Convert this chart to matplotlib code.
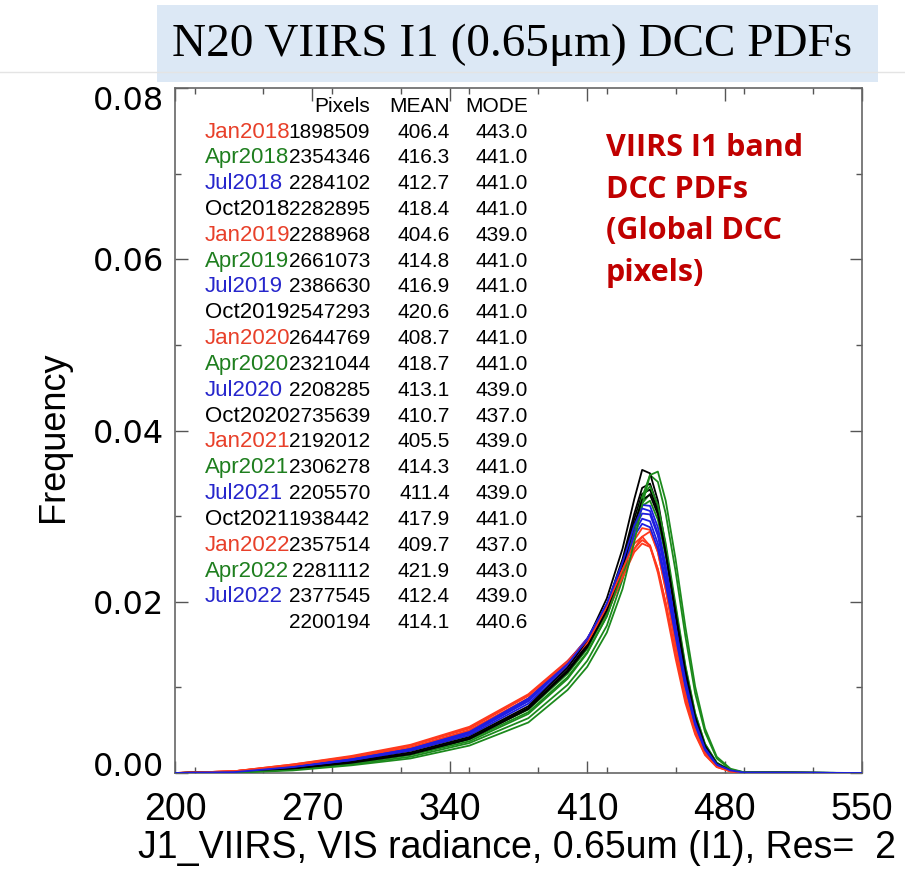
import matplotlib
matplotlib.use("Agg")
import matplotlib.pyplot as plt
import matplotlib.transforms as mtransforms
from matplotlib.patches import Rectangle
from matplotlib.lines import Line2D
from matplotlib.ticker import MultipleLocator

# radiance grid of the read-off points
radiance = [200, 230, 260, 290, 320, 350, 380, 400, 410, 420, 428, 434, 438,
            442, 446, 450, 455, 460, 465, 470, 476, 483, 490, 550]

# frequency values, one list per month
jan2018 = [0, 0.0002, 0.0009, 0.0018, 0.0030, 0.0050, 0.0087, 0.0125, 0.0150, 0.0186, 0.0228, 0.0262,
           0.0276, 0.0282, 0.0258, 0.0215, 0.0152, 0.0095, 0.0053, 0.0026, 0.0009, 0.0002, 0.00004, 0]
apr2018 = [0, 0.0001, 0.0005, 0.0012, 0.0022, 0.0039, 0.0071, 0.0112, 0.0141, 0.0183, 0.0234, 0.0284,
           0.0315, 0.0326, 0.0305, 0.0262, 0.0193, 0.0124, 0.0069, 0.0034, 0.0012, 0.0003, 0.00005, 0]
jul2018 = [0, 0.0001, 0.0007, 0.0015, 0.0027, 0.0046, 0.0084, 0.0127, 0.0155, 0.0196, 0.0243, 0.0285,
           0.0303, 0.0302, 0.0277, 0.0234, 0.0169, 0.0107, 0.0059, 0.0029, 0.0010, 0.0003, 0.00005, 0]
oct2018 = [0, 0.0001, 0.0005, 0.0012, 0.0023, 0.0041, 0.0076, 0.0120, 0.0150, 0.0196, 0.0250, 0.0303,
           0.0333, 0.0338, 0.0311, 0.0262, 0.0190, 0.0120, 0.0065, 0.0031, 0.0010, 0.0003, 0.00004, 0]
jan2019 = [0, 0.0002, 0.0010, 0.0019, 0.0032, 0.0053, 0.0091, 0.0130, 0.0154, 0.0191, 0.0232, 0.0262,
           0.0272, 0.0266, 0.0238, 0.0198, 0.0140, 0.0086, 0.0047, 0.0022, 0.0007, 0.0002, 0.00003, 0]
apr2019 = [0, 0.0001, 0.0005, 0.0012, 0.0023, 0.0041, 0.0074, 0.0116, 0.0145, 0.0188, 0.0238, 0.0285,
           0.0312, 0.0318, 0.0296, 0.0253, 0.0186, 0.0119, 0.0066, 0.0032, 0.0011, 0.0003, 0.00005, 0]
jul2019 = [0, 0.0001, 0.0006, 0.0014, 0.0026, 0.0044, 0.0081, 0.0124, 0.0153, 0.0196, 0.0246, 0.0291,
           0.0313, 0.0312, 0.0287, 0.0243, 0.0176, 0.0112, 0.0062, 0.0030, 0.0010, 0.0003, 0.00005, 0]
oct2019 = [0, 0.0001, 0.0005, 0.0012, 0.0022, 0.0040, 0.0075, 0.0119, 0.0149, 0.0194, 0.0246, 0.0297,
           0.0326, 0.0331, 0.0306, 0.0259, 0.0188, 0.0119, 0.0065, 0.0031, 0.0010, 0.0003, 0.00004, 0]
jan2020 = [0, 0.0002, 0.0008, 0.0017, 0.0029, 0.0049, 0.0087, 0.0127, 0.0152, 0.0192, 0.0236, 0.0272,
           0.0286, 0.0284, 0.0258, 0.0214, 0.0150, 0.0093, 0.0051, 0.0024, 0.0008, 0.0002, 0.00003, 0]
apr2020 = [0, 0.00005, 0.0004, 0.0010, 0.0019, 0.0035, 0.0064, 0.0103, 0.0131, 0.0172, 0.0226, 0.0282,
           0.0322, 0.0348, 0.0340, 0.0303, 0.0236, 0.0160, 0.0093, 0.0048, 0.0017, 0.0004, 0.00007, 0]
jul2020 = [0, 0.0001, 0.0007, 0.0016, 0.0028, 0.0047, 0.0086, 0.0129, 0.0157, 0.0197, 0.0242, 0.0281,
           0.0297, 0.0294, 0.0268, 0.0226, 0.0163, 0.0103, 0.0057, 0.0028, 0.0009, 0.0003, 0.00005, 0]
oct2020 = [0, 0.0001, 0.0005, 0.0013, 0.0024, 0.0042, 0.0078, 0.0123, 0.0155, 0.0204, 0.0262, 0.0320,
           0.0354, 0.0350, 0.0318, 0.0264, 0.0188, 0.0116, 0.0062, 0.0029, 0.0009, 0.0003, 0.00004, 0]
jan2021 = [0, 0.0002, 0.0010, 0.0020, 0.0033, 0.0054, 0.0092, 0.0131, 0.0155, 0.0190, 0.0228, 0.0258,
           0.0268, 0.0264, 0.0238, 0.0199, 0.0141, 0.0087, 0.0048, 0.0023, 0.0008, 0.0002, 0.00003, 0]
apr2021 = [0, 0.0001, 0.0004, 0.0011, 0.0021, 0.0037, 0.0069, 0.0110, 0.0140, 0.0183, 0.0236, 0.0288,
           0.0322, 0.0335, 0.0313, 0.0268, 0.0197, 0.0126, 0.0070, 0.0034, 0.0012, 0.0003, 0.00005, 0]
jul2021 = [0, 0.0001, 0.0007, 0.0016, 0.0028, 0.0048, 0.0087, 0.0130, 0.0157, 0.0196, 0.0240, 0.0277,
           0.0291, 0.0287, 0.0262, 0.0221, 0.0160, 0.0101, 0.0056, 0.0027, 0.0009, 0.0003, 0.00005, 0]
oct2021 = [0, 0.0001, 0.0005, 0.0012, 0.0022, 0.0040, 0.0075, 0.0118, 0.0147, 0.0190, 0.0240, 0.0290,
           0.0319, 0.0325, 0.0302, 0.0257, 0.0188, 0.0120, 0.0066, 0.0032, 0.0011, 0.0003, 0.00004, 0]
jan2022 = [0, 0.0002, 0.0009, 0.0019, 0.0032, 0.0052, 0.0090, 0.0130, 0.0156, 0.0195, 0.0238, 0.0268,
           0.0276, 0.0265, 0.0234, 0.0192, 0.0134, 0.0082, 0.0045, 0.0021, 0.0007, 0.0002, 0.00003, 0]
apr2022 = [0, 0.00004, 0.0003, 0.0009, 0.0017, 0.0032, 0.0059, 0.0097, 0.0124, 0.0164, 0.0215, 0.0270,
           0.0313, 0.0348, 0.0352, 0.0318, 0.0250, 0.0171, 0.0101, 0.0052, 0.0019, 0.0005, 0.00008, 0]
jul2022 = [0, 0.0001, 0.0007, 0.0015, 0.0027, 0.0046, 0.0084, 0.0127, 0.0156, 0.0198, 0.0246, 0.0289,
           0.0309, 0.0306, 0.0280, 0.0237, 0.0171, 0.0109, 0.0060, 0.0029, 0.0010, 0.0003, 0.00005, 0]

# table in the upper left
months = ["Jan2018", "Apr2018", "Jul2018", "Oct2018", "Jan2019", "Apr2019", "Jul2019",
          "Oct2019", "Jan2020", "Apr2020", "Jul2020", "Oct2020", "Jan2021", "Apr2021",
          "Jul2021", "Oct2021", "Jan2022", "Apr2022", "Jul2022", ""]
pixels = ["1898509", "2354346", "2284102", "2282895", "2288968", "2661073", "2386630",
          "2547293", "2644769", "2321044", "2208285", "2735639", "2192012", "2306278",
          "2205570", "1938442", "2357514", "2281112", "2377545", "2200194"]
means = ["406.4", "416.3", "412.7", "418.4", "404.6", "414.8", "416.9", "420.6", "408.7",
         "418.7", "413.1", "410.7", "405.5", "414.3", "411.4", "417.9", "409.7", "421.9",
         "412.4", "414.1"]
modes = ["443.0", "441.0", "441.0", "441.0", "439.0", "441.0", "441.0", "441.0", "441.0",
         "441.0", "439.0", "437.0", "439.0", "441.0", "439.0", "441.0", "437.0", "443.0",
         "439.0", "440.6"]

curves = [jan2018, apr2018, jul2018, oct2018, jan2019, apr2019, jul2019, oct2019,
          jan2020, apr2020, jul2020, oct2020, jan2021, apr2021, jul2021, oct2021,
          jan2022, apr2022, jul2022]

line_colors = ["#ff3a1e", "#1c8a1c", "#1e1ee0", "black"]
text_colors = ["#e8402a", "#1e7e1e", "#2626cc", "black"]

fig = plt.figure(figsize=(9.05, 8.88), dpi=100)

# slide decoration: separator line and title box
fig.add_artist(Line2D([0, 1], [1 - 72 / 888, 1 - 72 / 888], color="#e4e4e4", lw=1.0))
fig.add_artist(Rectangle((157 / 905, 1 - 82 / 888), 721 / 905, 77 / 888,
                         facecolor="#dce8f5", edgecolor="none"))
fig.text(512 / 905, 1 - 45 / 888, "N20 VIIRS I1 (0.65\u03bcm) DCC PDFs",
         family="Liberation Serif", fontsize=34, ha="center", va="center")

ax = fig.add_axes([175 / 905, 1 - 773 / 888, 687 / 905, 685 / 888])

for i, c in enumerate(curves):
    ax.plot(radiance, c, color=line_colors[i % 4], lw=1.3, zorder=3)

ax.set_xlim(200, 550)
ax.set_ylim(0, 0.08)
ax.xaxis.set_major_locator(MultipleLocator(70))
ax.xaxis.set_minor_locator(MultipleLocator(35))
ax.yaxis.set_major_locator(MultipleLocator(0.02))
ax.yaxis.set_minor_locator(MultipleLocator(0.01))
ax.tick_params(which="both", direction="in", top=True, right=True, color="#555555")
ax.tick_params(which="major", length=9, width=1.0)
ax.tick_params(which="minor", length=4, width=1.0)
ax.tick_params(axis="x", pad=14)
ax.tick_params(axis="y", pad=8)
for s in ax.spines.values():
    s.set_color("#666666")
    s.set_linewidth(1.2)

ax.set_xticks([200, 270, 340, 410, 480, 550])
ax.set_xticklabels(["200", "270", "340", "410", "480", "550"],
                   family="Liberation Sans", fontsize=27)
ax.set_yticks([0, 0.02, 0.04, 0.06, 0.08])
ax.set_yticklabels(["0.00", "0.02", "0.04", "0.06", "0.08"], family="DejaVu Sans", fontsize=23)

# IDL keeps the end labels inside the axis range
ylabs = ax.get_yticklabels()
ylabs[0].set_transform(ylabs[0].get_transform() +
                       mtransforms.ScaledTranslation(0, 9 / 100, fig.dpi_scale_trans))
ylabs[-1].set_transform(ylabs[-1].get_transform() +
                        mtransforms.ScaledTranslation(0, -10 / 100, fig.dpi_scale_trans))

fig.text(517 / 905, 1 - 848 / 888, "J1_VIIRS, VIS radiance, 0.65um (I1), Res=  2",
         family="Liberation Sans", fontsize=27, ha="center", va="center")
fig.text(53 / 905, 1 - 437 / 888, "Frequency", rotation=90,
         family="Liberation Sans", fontsize=26, ha="center", va="center")

# table
tfont = ["Liberation Sans", "DejaVu Sans"]
hy = (773 - 106) / 685
ax.text(0.2838, hy, "Pixels", transform=ax.transAxes, ha="right", va="center", fontsize=15, family=tfont)
ax.text(0.4003, hy, "MEAN", transform=ax.transAxes, ha="right", va="center", fontsize=15, family=tfont)
ax.text(0.5138, hy, "MODE", transform=ax.transAxes, ha="right", va="center", fontsize=15, family=tfont)
for i in range(len(pixels)):
    y = (773 - 132 - i * 25.83) / 685
    ax.text(0.0437, y, months[i], transform=ax.transAxes, ha="left", va="center",
            fontsize=16, family=tfont, color=text_colors[i % 4])
    ax.text(0.2838, y, pixels[i], transform=ax.transAxes, ha="right", va="center",
            fontsize=15, family=tfont)
    ax.text(0.4003, y, means[i], transform=ax.transAxes, ha="right", va="center",
            fontsize=15, family=tfont)
    ax.text(0.5138, y, modes[i], transform=ax.transAxes, ha="right", va="center",
            fontsize=15, family=tfont)

ax.text((606 - 175) / 687, (773 - 133) / 685, "VIIRS I1 band\nDCC PDFs\n(Global DCC\npixels)",
        transform=ax.transAxes, ha="left", va="top", fontsize=22, fontweight="bold",
        family="Open Sans", color="#c00000", linespacing=1.5)

fig.savefig("out.png", dpi=100)
